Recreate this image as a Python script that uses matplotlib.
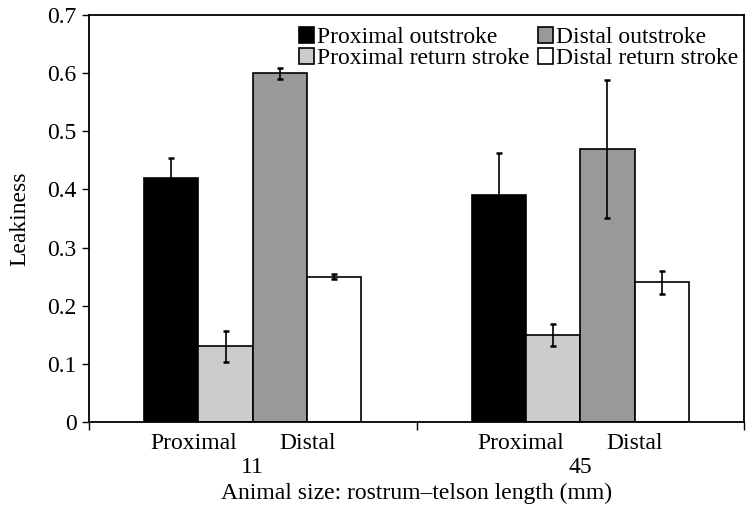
import numpy as np
import matplotlib
matplotlib.use("Agg")
import matplotlib.pyplot as plt
from matplotlib.transforms import blended_transform_factory

plt.rcParams["font.family"] = ["Liberation Serif", "DejaVu Serif"]

# Animal size groups (rostrum-telson length, mm)
sizes = ["11", "45"]
sub_labels = ["Proximal", "Distal"]

series_names = ["Proximal outstroke", "Proximal return stroke",
                "Distal outstroke", "Distal return stroke"]
series_colors = ["#000000", "#cccccc", "#999999", "#ffffff"]

prox_out = [0.42, 0.39]
prox_out_err = [0.034, 0.072]
prox_ret = [0.13, 0.15]
prox_ret_err = [0.026, 0.019]
dist_out = [0.60, 0.47]
dist_out_err = [0.0095, 0.119]
dist_ret = [0.25, 0.24]
dist_ret_err = [0.004, 0.019]

values = [prox_out, prox_ret, dist_out, dist_ret]
errors = [prox_out_err, prox_ret_err, dist_out_err, dist_ret_err]

fig = plt.figure(figsize=(7.54, 5.09), dpi=100)
ax = fig.add_axes([89 / 754, 1 - 422 / 509, (744 - 89) / 754, (422 - 15) / 509])

x = np.arange(len(sizes))
width = 0.166
handles = []
for i, (vals, errs, col, name) in enumerate(zip(values, errors, series_colors, series_names)):
    pos = x + (i - 1.5) * width
    b = ax.bar(pos, vals, width, color=col, edgecolor="black", linewidth=1.2,
               label=name, zorder=2)
    ax.errorbar(pos, vals, yerr=errs, fmt="none", ecolor="black",
                elinewidth=1.2, capsize=2.5, capthick=1.8, zorder=3)
    handles.append(b)

ax.set_xlim(-0.5, 1.5)
ax.set_ylim(0, 0.7)
ax.set_yticks(np.arange(0, 0.71, 0.1))
ax.set_yticklabels(["0", "0.1", "0.2", "0.3", "0.4", "0.5", "0.6", "0.7"])

# group boundaries carry the visible ticks; sub-labels sit between them
ax.set_xticks([-0.5, 0.5, 1.5])
ax.set_xticklabels([])
minor_pos = []
minor_lab = []
for xi in x:
    minor_pos += [xi - width - 0.015, xi + width]
    minor_lab += sub_labels
ax.set_xticks(minor_pos, minor=True)
ax.set_xticklabels(minor_lab, minor=True)
ax.tick_params(axis="x", which="minor", length=0, pad=8, labelsize=17)
ax.tick_params(axis="x", which="major", length=6, width=1.0, direction="out")
ax.tick_params(axis="y", length=5, width=1.0, direction="out", labelsize=17, pad=4)

trans = blended_transform_factory(ax.transData, ax.transAxes)
for xi, s in zip(x, sizes):
    ax.text(xi, -0.085, s, transform=trans, ha="center", va="top", fontsize=17)

ax.set_xlabel("Animal size: rostrum\u2013telson length (mm)", fontsize=17, labelpad=21)
ax.set_ylabel("Leakiness", fontsize=17, labelpad=12)

for sp in ax.spines.values():
    sp.set_linewidth(1.3)

leg = ax.legend(handles=handles, labels=series_names,
                ncol=2, loc="upper right", bbox_to_anchor=(1.0, 0.985),
                frameon=False, fontsize=17, handlelength=0.65, handleheight=0.65,
                handletextpad=0.12, columnspacing=0.35, labelspacing=0.0,
                borderpad=0.15, borderaxespad=0.1)

fig.savefig("out.png", dpi=100)
